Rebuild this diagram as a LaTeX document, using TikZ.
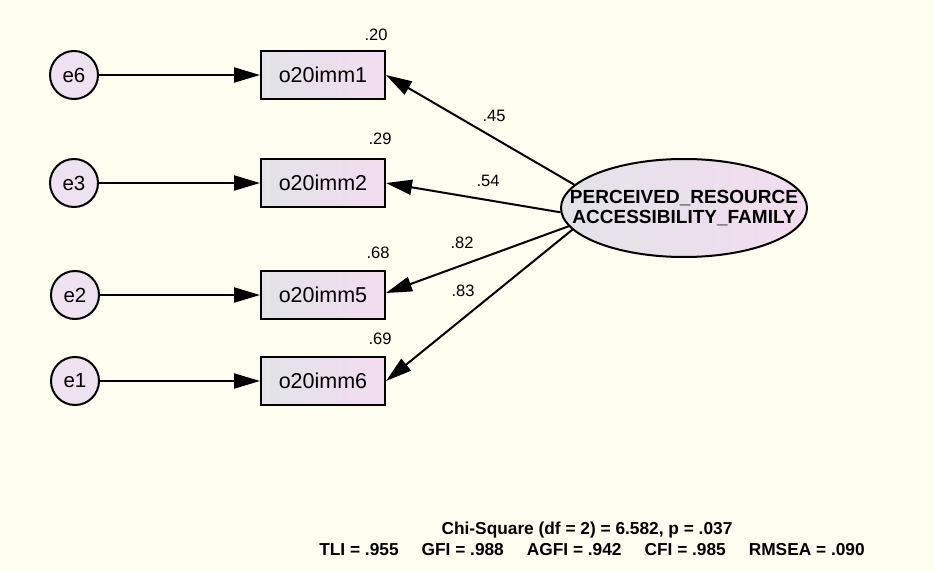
\documentclass[tikz,border=0pt]{standalone}
\usepackage{fontspec}
\setmainfont{Liberation Sans}
\usetikzlibrary{shapes.geometric,arrows.meta}
\definecolor{paper}{HTML}{FDFDF0}
\definecolor{shadeL}{HTML}{E2E3E8}
\definecolor{shadeR}{HTML}{F3DCF0}
\definecolor{errfill}{HTML}{EFE2F0}

\begin{document}
\begin{tikzpicture}[x=1pt,y=-1pt,
  obs/.style={draw, line width=2pt, minimum width=124pt, minimum height=48pt,
    inner sep=0pt, left color=shadeL, right color=shadeR,
    font=\fontsize{21.5}{21.5}\selectfont},
  err/.style={circle, draw, line width=2pt, minimum size=48pt, inner sep=0pt,
    fill=errfill, font=\fontsize{20.5}{20.5}\selectfont},
  lat/.style={ellipse, draw, line width=2pt, minimum width=246pt, minimum height=98pt,
    inner sep=0pt, left color=shadeL, right color=shadeR},
  latname/.style={inner sep=0pt, align=center,
    font=\fontsize{19}{20}\selectfont\bfseries},
  reg/.style={line width=2pt, -{Triangle[length=26pt,width=15pt]}},
  est/.style={inner sep=0pt, font=\fontsize{16.5}{16.5}\selectfont},
  fit/.style={inner sep=0pt, font=\fontsize{17.3}{17.3}\selectfont\bfseries}
]
\fill[paper] (0,0) rectangle (934,572);
\useasboundingbox (0,0) rectangle (934,572);

% error terms
\node[err] (e6) at (74,75)  {e6};
\node[err] (e3) at (74,183) {e3};
\node[err] (e2) at (75,295) {e2};
\node[err] (e1) at (75,381) {e1};

% observed indicators
\node[obs] (b1) at (323,75)  {o20imm1};
\node[obs] (b2) at (323,183) {o20imm2};
\node[obs] (b3) at (323,295) {o20imm5};
\node[obs] (b4) at (323,381) {o20imm6};

% latent factor
\node[lat] (f) at (684,208) {};
\node[latname] (fname) at (f.center) {PERCEIVED\_RESOURCE\\ACCESSIBILITY\_FAMILY};

% error paths
\draw[reg] (e6) -- (b1);
\draw[reg] (e3) -- (b2);
\draw[reg] (e2) -- (b3);
\draw[reg] (e1) -- (b4);

% factor loadings
\draw[reg] (f.168) -- (b1.east);
\draw[reg] (f.182) -- (b2.east);
\draw[reg] (f.189) -- ([yshift=2pt]b3.east);
\draw[reg] (f.191) -- (b4.east);

% squared multiple correlations
\node[est] (r1) at (376,35)  {.20};
\node[est] (r2) at (380,139) {.29};
\node[est] (r3) at (378,253) {.68};
\node[est] (r4) at (380,339) {.69};

% standardized loadings
\node[est] (l1) at (494,116) {.45};
\node[est] (l2) at (488,181) {.54};
\node[est] (l3) at (462,243) {.82};
\node[est] (l4) at (463,291) {.83};

% fit statistics
\node[fit] (chi) at (587,530) {Chi-Square (df = 2) = 6.582, p = .037};
\node[fit] (idx) at (592,550) {TLI = .955\hspace{23pt}GFI = .988\hspace{23pt}AGFI = .942\hspace{23pt}CFI = .985\hspace{23pt}RMSEA = .090};
\end{tikzpicture}
\end{document}
